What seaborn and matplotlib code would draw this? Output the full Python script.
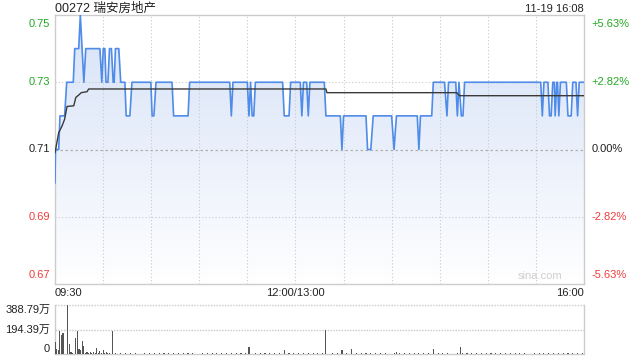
import numpy as np
import pandas as pd
import matplotlib
matplotlib.use("Agg")
import matplotlib.pyplot as plt
from matplotlib.colors import LinearSegmentedColormap
from matplotlib.patches import Polygon
import seaborn as sns

# ---------------- data ----------------
title = "00272 瑞安房地产"
stamp = "11-19 16:08"
prev_close = 0.71
price_ticks = [0.75, 0.73, 0.71, 0.69, 0.67]
pct_labels = ["+5.63%", "+2.82%", "0.00%", "-2.82%", "-5.63%"]
time_labels = ["09:30", "12:00/13:00", "16:00"]
vol_tick_labels = ["388.79万", "194.39万", "0"]
vol_ticks = [388.79, 194.39, 0]

# minutes since 09:30 (lunch removed), price
price_min = [0, 0.3, 2.3, 3.1, 6, 7.3, 11.4, 12.3, 14.8, 15.8, 18, 19.2, 28, 29.2, 30.1, 31.1,
             31.8, 33, 34, 35.2, 36.3, 36.9, 37.7, 39.8, 41, 43.6, 44.4, 46.7, 48, 59.8, 60.6,
             61.7, 63, 73, 74, 83, 84, 109, 110, 111, 120, 121, 122, 123, 124, 125, 142, 143,
             146, 147, 153, 154, 155, 157, 158, 159, 168, 169, 178, 179, 180, 194, 195, 197,
             198.5, 210, 211.5, 213, 226, 227, 228, 235, 236, 243, 244.5, 245.5, 250, 251, 252,
             253.5, 254.5, 255.5, 303, 304, 305, 307.5, 308.5, 309.5, 310.5, 311.5, 312, 313,
             313.5, 314.3, 315.3, 319, 320, 322, 323, 325, 326, 327, 330]
price_val = [0.70, 0.71, 0.71, 0.72, 0.72, 0.73, 0.73, 0.74, 0.74, 0.75, 0.73, 0.74, 0.74, 0.73,
             0.74, 0.74, 0.73, 0.73, 0.74, 0.74, 0.73, 0.73, 0.74, 0.74, 0.73, 0.73, 0.72, 0.72,
             0.73, 0.73, 0.72, 0.72, 0.73, 0.73, 0.72, 0.72, 0.73, 0.73, 0.72, 0.73, 0.73, 0.72,
             0.73, 0.72, 0.72, 0.73, 0.73, 0.72, 0.72, 0.73, 0.73, 0.72, 0.73, 0.73, 0.72, 0.73,
             0.73, 0.72, 0.72, 0.71, 0.72, 0.72, 0.71, 0.71, 0.72, 0.72, 0.71, 0.72, 0.72, 0.71,
             0.72, 0.72, 0.73, 0.73, 0.72, 0.73, 0.73, 0.72, 0.73, 0.72, 0.72, 0.73, 0.73, 0.72,
             0.73, 0.73, 0.72, 0.72, 0.73, 0.73, 0.72, 0.73, 0.73, 0.72, 0.73, 0.73, 0.72, 0.72,
             0.73, 0.73, 0.72, 0.73, 0.73]

avg_min = [0, 2.3, 4.4, 6, 7.5, 11.7, 13, 14.8, 16.4, 20, 21, 169, 169.6, 250.6, 252.3, 330]
avg_val = [0.709, 0.715, 0.717, 0.719, 0.7228, 0.723, 0.7255, 0.7262, 0.7269, 0.7272, 0.728,
           0.728, 0.7269, 0.7269, 0.726, 0.726]

# volume (万)
vol_min = [0, 1, 2, 3, 4, 5, 8, 9, 10, 11, 13, 14, 15, 16, 17, 18, 19, 20, 21, 22, 23, 24, 25,
           26, 27, 28, 29, 30, 31, 32, 33, 34, 36, 121, 143, 169, 179, 185, 213, 236, 253]
vol_val = [93, 39, 35, 181, 148, 163, 388.79, 78, 12, 8, 124, 181, 39, 35, 104, 65, 10, 14, 8,
           12, 9, 15, 11, 47, 10, 20, 8, 33, 9, 12, 7, 10, 181, 57, 26, 194, 26, 33, 15, 39, 57]
small_vol_min = list(range(38, 330, 3))
small_vol_val = [6, 4, 8, 5, 7, 3, 9, 5, 6, 4, 7, 5, 10, 4, 6, 8, 5, 3, 7, 6,
                 4, 9, 5, 6, 8, 4, 7, 5, 3, 6, 8, 5, 4, 7, 6, 9, 5, 4, 6, 8,
                 5, 7, 4, 6, 3, 8, 5, 6, 7, 4, 9, 5, 6, 4, 8, 5, 7, 3, 6, 5,
                 8, 4, 6, 7, 5, 9, 4, 6, 5, 7, 3, 8, 6, 4, 5, 7, 6, 9, 4, 5,
                 6, 8, 4, 7, 5, 6, 3, 8, 5, 6, 7, 4, 6, 5, 8, 6, 4, 7]

# ---------------- style ----------------
sns.set_theme(style="white")
plt.rcParams["font.family"] = ["Liberation Sans", "Noto Sans CJK SC", "DejaVu Sans"]

GREEN = "#22a822"
RED = "#f03c3c"
GRID = "#c9c9c9"
FRAME = "#cccccc"
LINE = "#4f8be8"

fig = plt.figure(figsize=(6.4, 3.6), dpi=100)
ax = fig.add_axes([55 / 640, 1 - 284 / 360, 529 / 640, 269 / 360])
axv = fig.add_axes([55 / 640, 1 - 354 / 360, 529 / 640, 49 / 360])

x0, x1 = 0, 330
y0, y1 = 0.67, 0.75

# gradient fill under price line
verts = [(price_min[0], y0)] + list(zip(price_min, price_val)) + [(price_min[-1], y0)]
clip = Polygon(verts, closed=True, facecolor="none", edgecolor="none")
ax.add_patch(clip)
cmap = LinearSegmentedColormap.from_list("g", ["#ffffff", "#eaf0fb", "#d7e3f7"])
grad = np.linspace(0, 1, 256).reshape(-1, 1)
im = ax.imshow(grad, extent=[x0, x1, y0, y1], origin="lower", aspect="auto", cmap=cmap,
               zorder=1)
im.set_clip_path(clip)

# grid
for t in range(30, 330, 30):
    ax.axvline(t, color=GRID, lw=0.8, ls=(0, (1, 2)), zorder=2)
for p in [0.73, 0.69]:
    ax.axhline(p, color=GRID, lw=0.8, ls=(0, (1, 2)), zorder=2)
ax.axhline(prev_close, color="#b0b0b0", lw=0.9, ls=(0, (2, 2)), zorder=2)

sns.lineplot(x=price_min, y=price_val, ax=ax, color=LINE, lw=1.2, estimator=None,
             sort=False, zorder=4)
sns.lineplot(x=avg_min, y=avg_val, ax=ax, color="#3a3a3a", lw=1.0, estimator=None,
             sort=False, zorder=5)

ax.set_xlim(x0, x1)
ax.set_ylim(y0, y1)
ax.set_xticks([])
ax.set_yticks([])
ax.set_xlabel("")
ax.set_ylabel("")
for s in ax.spines.values():
    s.set_color(FRAME)
    s.set_linewidth(1)

colors = [GREEN, GREEN, "#222222", RED, RED]
for p, pl, c in zip(price_ticks, pct_labels, colors):
    va = "top" if p == y1 else ("bottom" if p == y0 else "center")
    off = -0.0012 if p == y1 else (0.0012 if p == y0 else 0)
    ax.text(-0.009, p + off, f"{p:.2f}", transform=ax.get_yaxis_transform(), ha="right",
            va=va, color=c, fontsize=8)
    ax.text(1.014, p + off, pl, transform=ax.get_yaxis_transform(), ha="left", va=va,
            color=c, fontsize=8)

fig.text(55 / 640, 1 - 8.5 / 360, title, ha="left", va="center", fontsize=9,
         color="#222222")
fig.text(584 / 640, 1 - 8.5 / 360, stamp, ha="right", va="center", fontsize=8,
         color="#222222")
ax.text(0.96, 0.012, "sina.com", transform=ax.transAxes, ha="right", va="bottom",
        fontsize=8, color="#cfcfcf")

tl_x = [0, 150, 330]
tl_ha = ["left", "center", "right"]
for xv, lab, ha in zip(tl_x, time_labels, tl_ha):
    ax.text(xv, -9.5 / 269, lab, transform=ax.get_xaxis_transform(), ha=ha, va="center",
            fontsize=8, color="#222222")

# volume
vdf = pd.DataFrame({"m": vol_min + small_vol_min, "v": vol_val + small_vol_val})
vdf = vdf.groupby("m", as_index=False)["v"].sum()
sns.barplot(data=vdf, x="m", y="v", native_scale=True, color="#555555", errorbar=None,
            ax=axv, width=0.7, saturation=1, linewidth=0, zorder=3)
axv.set_xlim(x0, x1)
axv.set_ylim(0, 388.79)
axv.set_xticks([])
axv.set_yticks([])
axv.set_xlabel("")
axv.set_ylabel("")
for s in ["left", "right", "bottom"]:
    axv.spines[s].set_color(FRAME)
    axv.spines[s].set_linewidth(1)
axv.spines["top"].set_visible(False)
axv.axhline(388.79, color=GRID, lw=1.0, ls=(0, (1, 1)), zorder=1, clip_on=False)
axv.axhline(194.39, color=GRID, lw=1.0, ls=(0, (1, 1)), zorder=1)
for vt, vl in zip(vol_ticks, vol_tick_labels):
    va = "top" if vt == 388.79 else ("bottom" if vt == 0 else "center")
    axv.text(-0.009, vt, vl, transform=axv.get_yaxis_transform(), ha="right", va=va,
             fontsize=8, color="#222222")

fig.savefig("out.png", dpi=100)
